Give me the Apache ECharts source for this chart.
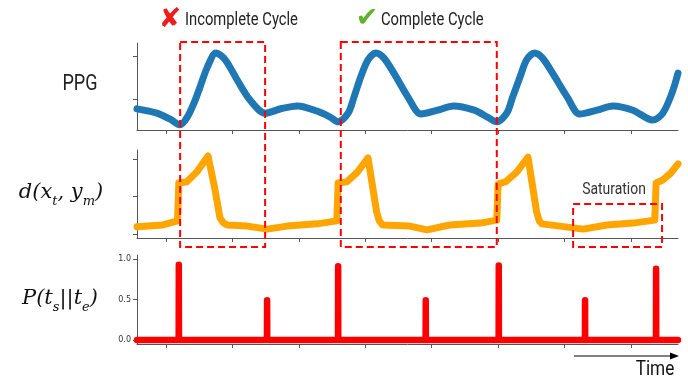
<!DOCTYPE html>
<html>
<head>
<meta charset="utf-8">
<script src="https://cdn.jsdelivr.net/npm/echarts@6/dist/echarts.min.js"></script>
<style>
  html, body { margin: 0; padding: 0; background: #fff; }
  #chart { width: 688px; height: 379px; }
</style>
</head>
<body>
<div id="chart"></div>
<script>
// Shared time axis (samples)
const timeRange = [56, 871];
const timeTicks = [100, 200, 300, 400, 500, 600, 700, 800];

// PPG waveform
const ppgTime = [56, 86, 106, 121, 131, 142, 151, 162, 175, 189, 207, 226, 249, 274, 298, 327, 347, 359, 374, 383, 393, 404, 416, 428, 443, 464, 484, 509, 533, 564, 584, 598, 613, 622, 633, 643, 655, 667, 682, 704, 723, 749, 773, 803, 833, 848, 862, 871];
const ppgValue = [-0.23, -0.33, -0.47, -0.60, -0.44, -0.09, 0.28, 0.74, 1.07, 0.91, 0.44, -0.02, -0.33, -0.22, -0.16, -0.28, -0.42, -0.53, -0.33, 0.05, 0.51, 0.91, 1.07, 0.95, 0.60, 0.05, -0.35, -0.26, -0.16, -0.26, -0.42, -0.53, -0.33, 0.05, 0.51, 0.91, 1.07, 0.95, 0.60, 0.05, -0.35, -0.26, -0.16, -0.26, -0.49, -0.33, 0.14, 0.60];

// Distance between current sample and template, d(x_t, y_m)
const distTime = [56, 95, 117, 119, 131, 146, 163, 173, 181, 186, 192, 222, 252, 282, 327, 357, 359, 372, 388, 404, 417, 421, 426, 467, 493, 527, 573, 598, 600, 612, 628, 645, 658, 662, 666, 693, 728, 764, 803, 836, 838, 848, 860, 871];
const distValue = [0.19, 0.24, 0.35, 1.36, 1.39, 1.65, 2.08, 1.23, 0.43, 0.30, 0.24, 0.21, 0.13, 0.21, 0.27, 0.35, 1.36, 1.39, 1.65, 2.03, 0.59, 0.35, 0.24, 0.21, 0.11, 0.24, 0.29, 0.37, 1.33, 1.40, 1.65, 2.05, 0.59, 0.35, 0.27, 0.21, 0.13, 0.24, 0.29, 0.37, 1.36, 1.44, 1.62, 1.87];

// Start/end probability spikes, P(t_s || t_e)
const spikeTime = [119, 252, 359, 491, 601, 731, 838];
const spikeProb = [0.93, 0.49, 0.91, 0.49, 0.92, 0.49, 0.88];
const probTicks = [0, 0.5, 1.0];

// Annotated spans (time units)
const incompleteSpan = [121, 249];
const completeSpan = [363, 598];
const saturationSpan = [713, 847];

const pair = (xs, ys) => xs.map((x, i) => [x, ys[i]]);

// baseline at zero with a narrow spike at every detected boundary
const probData = [[timeRange[0], 0]];
spikeTime.forEach((t, i) => { probData.push([t - 0.2, 0], [t, spikeProb[i]], [t + 0.2, 0]); });
probData.push([timeRange[1], 0]);

const axisColor = '#555';
function timeAxis(gi) {
  return {
    type: 'value', gridIndex: gi, min: timeRange[0], max: timeRange[1],
    axisLine: { onZero: false, lineStyle: { color: axisColor, width: 1 } },
    axisTick: { show: true, customValues: timeTicks, length: 4, lineStyle: { color: axisColor } },
    axisLabel: { show: false, customValues: timeTicks },
    splitLine: { show: false }
  };
}
function valueAxis(gi, min, max, ticks, showLabels) {
  return {
    type: 'value', gridIndex: gi, min: min, max: max,
    axisLine: { show: true, onZero: false, lineStyle: { color: axisColor, width: 1 } },
    axisTick: { show: true, customValues: ticks, length: 4, lineStyle: { color: axisColor } },
    axisLabel: {
      show: showLabels, customValues: ticks, margin: 6,
      fontFamily: 'DejaVu Sans', fontSize: 8, color: '#333',
      formatter: v => Number(v).toFixed(1)
    },
    splitLine: { show: false }
  };
}

const chart = echarts.init(document.getElementById('chart'), null, { renderer: 'canvas' });
chart.setOption({
  animation: false,
  backgroundColor: '#fff',
  grid: [
    { left: 137, top: 43, width: 541, height: 87, outerBoundsMode: 'none' },
    { left: 137, top: 150, width: 541, height: 88, outerBoundsMode: 'none' },
    { left: 137, top: 255, width: 541, height: 89, outerBoundsMode: 'none' }
  ],
  xAxis: [timeAxis(0), timeAxis(1), timeAxis(2)],
  yAxis: [
    valueAxis(0, -0.72, 1.30, [0, 1], false),
    valueAxis(1, -0.107, 2.24, [0, 1, 2], false),
    valueAxis(2, -0.05, 1.05, probTicks, true)
  ],
  series: [
    { name: 'PPG', type: 'line', xAxisIndex: 0, yAxisIndex: 0, data: pair(ppgTime, ppgValue),
      smooth: 0.3, symbol: 'none', lineStyle: { color: '#1f77b4', width: 7, cap: 'round', join: 'round' } },
    { name: 'distance', type: 'line', xAxisIndex: 1, yAxisIndex: 1, data: pair(distTime, distValue),
      smooth: false, symbol: 'none', lineStyle: { color: '#ffa500', width: 7, cap: 'round', join: 'round' } },
    { name: 'probability', type: 'line', xAxisIndex: 2, yAxisIndex: 2, data: probData,
      smooth: false, symbol: 'none', lineStyle: { color: '#ff0000', width: 6.5, cap: 'round', join: 'round' } }
  ]
});

// Overlay annotations, placed from the time scale
const px = t => chart.convertToPixel({ xAxisIndex: 0 }, t);
const dashStyle = { fill: 'none', stroke: '#ff0000', lineWidth: 2, lineDash: [7, 4] };
const boxTop = 42, boxBottom = 247, satTop = 204;
const condensed = 0.82;

function label(text, x, y, size, align, color) {
  return {
    type: 'text', x: x, y: y, scaleX: condensed, z: 100,
    style: { text: text, x: 0, y: 0, fontFamily: 'Roboto', fontSize: size, fill: color || '#222',
             align: align, textAlign: align, verticalAlign: 'middle', textVerticalAlign: 'middle' }
  };
}
function mathLabel(rich, x, y) {
  return {
    type: 'text', x: x, y: y, z: 100,
    style: {
      text: rich, x: 0, y: 0, align: 'center', textAlign: 'center',
      verticalAlign: 'middle', textVerticalAlign: 'middle', fill: '#111',
      rich: {
        a: { fontFamily: 'DejaVu Serif', fontStyle: 'italic', fontSize: 21, lineHeight: 30, verticalAlign: 'middle', fill: '#111' },
        s: { fontFamily: 'DejaVu Serif', fontStyle: 'italic', fontSize: 13, lineHeight: 12, height: 12, verticalAlign: 'bottom', fill: '#111' }
      }
    }
  };
}
function mark(glyph, x, y, color) {
  return {
    type: 'text', z: 100, x: x, y: y,
    style: { text: glyph, x: 0, y: 0, fontFamily: 'DejaVu Sans', fontSize: 27, fill: color,
             align: 'center', textAlign: 'center', verticalAlign: 'middle', textVerticalAlign: 'middle' }
  };
}

const graphics = [
  { type: 'rect', z: 100, shape: { x: px(incompleteSpan[0]), y: boxTop, width: px(incompleteSpan[1]) - px(incompleteSpan[0]), height: boxBottom - boxTop }, style: dashStyle },
  { type: 'rect', z: 100, shape: { x: px(completeSpan[0]), y: boxTop, width: px(completeSpan[1]) - px(completeSpan[0]), height: boxBottom - boxTop }, style: dashStyle },
  { type: 'rect', z: 100, shape: { x: px(saturationSpan[0]), y: satTop, width: px(saturationSpan[1]) - px(saturationSpan[0]), height: boxBottom - satTop }, style: dashStyle },

  mark('\u2718', 170, 20, '#ee1c1c'),
  label('Incomplete Cycle', 185, 20, 18, 'left'),
  mark('\u2714', 367, 19, '#5db42c'),
  label('Complete Cycle', 381, 20, 18, 'left'),

  label('PPG', 80, 84, 22, 'center'),
  mathLabel('{a|d(x}{s|t}{a|, y}{s|m}{a|)}', 61, 193),
  mathLabel('{a|P(t}{s|s}{a|||t}{s|e}{a|)}', 60, 299),

  label('Saturation', 614, 190, 17, 'center', '#333'),

  { type: 'line', z: 100, shape: { x1: 574, y1: 356, x2: 672, y2: 356 }, style: { stroke: '#000', lineWidth: 1 } },
  { type: 'polygon', z: 100, shape: { points: [[679, 356], [670, 352.5], [670, 359.5]] }, style: { fill: '#000' } },
  label('Time', 655, 370, 21, 'center', '#111')
];
chart.setOption({ graphic: graphics });
</script>
</body>
</html>
